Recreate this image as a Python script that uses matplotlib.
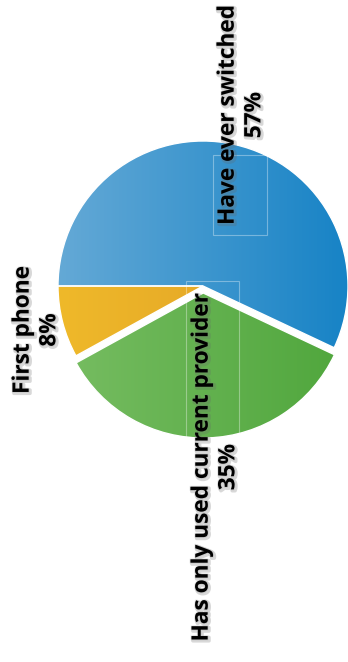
import numpy as np
import matplotlib
matplotlib.use('Agg')
import matplotlib.pyplot as plt
import matplotlib.patheffects as pe
from matplotlib.colors import LinearSegmentedColormap
from matplotlib.patches import Rectangle

#---------------------------------- DATA -----------------------------------
labels = ['Have ever switched', 'Has only used current provider', 'First phone']
shares = [57, 35, 8]
grad_light = ['#64a9d6', '#77bd62', '#efb92a']
grad_dark = ['#1783c6', '#4fa63c', '#de9c25']

#---------------------------------- SETTING -----------------------------------
W, H = 348, 662
cx, cy, r = 203, H - 286, 145
explode = [0, 7, 0]      # pie offsets are in data units (px here)
label_xy = [(241, H - 115), (215, H - 467), (36, H - 330)]

fig = plt.figure(figsize=(W / 100, H / 100), dpi=100)
ax = fig.add_axes([0, 0, 1, 1])

wedges, _ = ax.pie(shares, explode=explode, startangle=180, counterclock=False,
                   center=(cx, cy), radius=r,
                   wedgeprops=dict(edgecolor='white', linewidth=1.0))

# horizontal gradient fill, clipped to each wedge
xg = np.linspace(0, 1, 256).reshape(1, -1)
for kk, w in enumerate(wedges):
    w.set_facecolor('none')
    cmap = LinearSegmentedColormap.from_list('g%d' % kk, [grad_light[kk], grad_dark[kk]])
    im = ax.imshow(xg, cmap=cmap, extent=(cx - r, cx + r, cy - r - 10, cy + r + 10),
                   aspect='auto', zorder=0.5, interpolation='bilinear')
    im.set_clip_path(w)

# faint label anchor boxes
for (x0, y0, x1, y1) in [(213, 155, 267, 235), (186, 281, 239, 437)]:
    ax.add_patch(Rectangle((x0, H - y1), x1 - x0, y1 - y0, fill=False,
                           edgecolor='white', alpha=0.35, lw=0.8, zorder=2))

shadow = [pe.SimpleLineShadow(offset=(1, -1), shadow_color='#666666', alpha=0.25, linewidth=2.5),
          pe.Stroke(linewidth=1.5, foreground='#888888', alpha=0.15), pe.Normal()]
for kk, lab in enumerate(labels):
    ax.text(label_xy[kk][0], label_xy[kk][1], '%s\n%d%%' % (lab, shares[kk]),
            rotation=90, ha='center', va='center', multialignment='center',
            family='Open Sans', fontsize=16.3, fontweight='bold', color='black',
            linespacing=1.15, path_effects=shadow, zorder=3)

ax.set_xlim(0, W)
ax.set_ylim(0, H)
ax.set_aspect('auto')
ax.axis('off')
fig.savefig('out.png', dpi=100)
